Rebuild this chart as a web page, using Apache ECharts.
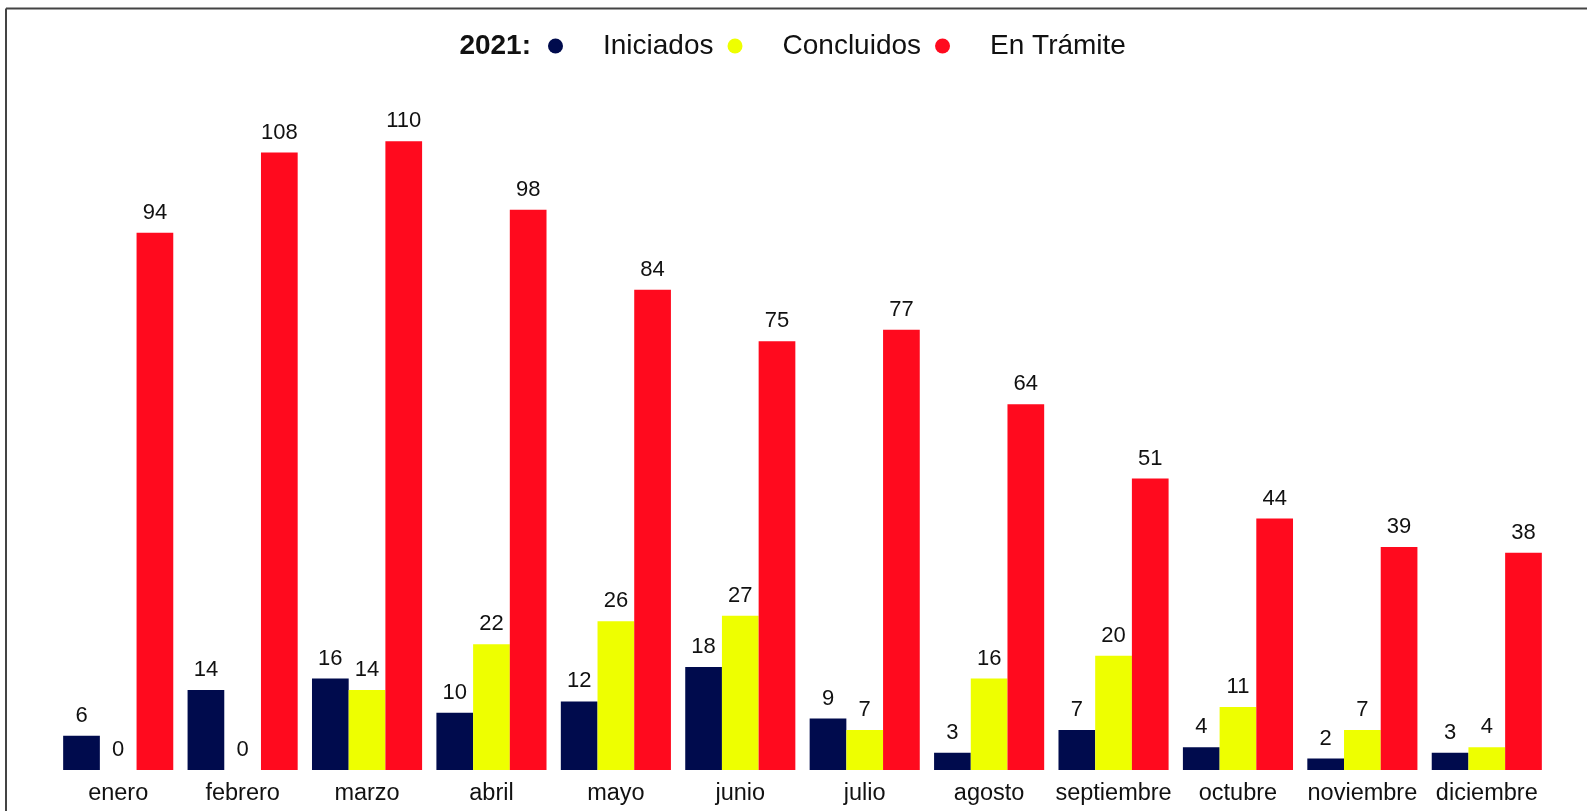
<!DOCTYPE html>
<html>
<head>
<meta charset="utf-8">
<script src="https://cdn.jsdelivr.net/npm/echarts@6/dist/echarts.min.js"></script>
<style>
  html, body { margin: 0; padding: 0; background: #fff; }
  #chart { width: 1587px; height: 811px; }
</style>
</head>
<body>
<div id="chart"></div>
<script>
// Monthly case counts for 2021
const months = ['enero', 'febrero', 'marzo', 'abril', 'mayo', 'junio', 'julio', 'agosto', 'septiembre', 'octubre', 'noviembre', 'diciembre'];
const iniciados = [6, 14, 16, 10, 12, 18, 9, 3, 7, 4, 2, 3];
const concluidos = [0, 0, 14, 22, 26, 27, 7, 16, 20, 11, 7, 4];
const enTramite = [94, 108, 110, 98, 84, 75, 77, 64, 51, 44, 39, 38];
const yearLabel = '2021:';

const FONT = '"Liberation Sans", Arial, sans-serif';

const colors = ['#000B4D', '#EEFF00', '#FF0A1E'];

function barSeries(name, data, color) {
  return {
    name: name,
    type: 'bar',
    data: data,
    barWidth: '29.5%',
    barGap: '0%',
    itemStyle: { color: color },
    label: {
      show: true,
      position: 'top',
      distance: 9,
      color: '#111',
      fontFamily: FONT,
      fontSize: 22
    }
  };
}

const chart = echarts.init(document.getElementById('chart'), null, { renderer: 'canvas' });
chart.setOption({
  backgroundColor: '#fff',
  animation: false,
  color: colors,
  grid: { left: 56, right: 38, top: 84, bottom: 41 },
  legend: {
    left: 548,
    top: 32,
    padding: 0,
    icon: 'circle',
    itemWidth: 15,
    itemHeight: 15,
    itemGap: 14,
    textStyle: {
      fontFamily: FONT,
      fontSize: 28,
      color: '#111',
      padding: [0, 0, 0, 35]
    },
    data: ['Iniciados', 'Concluidos', 'En Trámite']
  },
  xAxis: {
    type: 'category',
    data: months,
    axisLine: { show: false },
    axisTick: { show: false },
    axisLabel: {
      color: '#111',
      fontFamily: FONT,
      fontSize: 23.5,
      margin: 12,
      interval: 0
    }
  },
  yAxis: {
    type: 'value',
    min: 0,
    max: 120,
    show: false,
    splitLine: { show: false }
  },
  graphic: [
    {
      type: 'text',
      x: 531,
      y: 46,
      style: {
        text: yearLabel,
        fontFamily: FONT,
        fontWeight: 'bold',
        fontSize: 28,
        fill: '#111',
        align: 'right',
        verticalAlign: 'middle'
      }
    },
    {
      type: 'line',
      shape: { x1: 6, y1: 8.5, x2: 1587, y2: 8.5 },
      style: { stroke: '#444', lineWidth: 2 }
    },
    {
      type: 'line',
      shape: { x1: 6, y1: 8.5, x2: 6, y2: 811 },
      style: { stroke: '#444', lineWidth: 2 }
    }
  ],
  series: [
    barSeries('Iniciados', iniciados, colors[0]),
    barSeries('Concluidos', concluidos, colors[1]),
    barSeries('En Trámite', enTramite, colors[2])
  ]
});
</script>
</body>
</html>
